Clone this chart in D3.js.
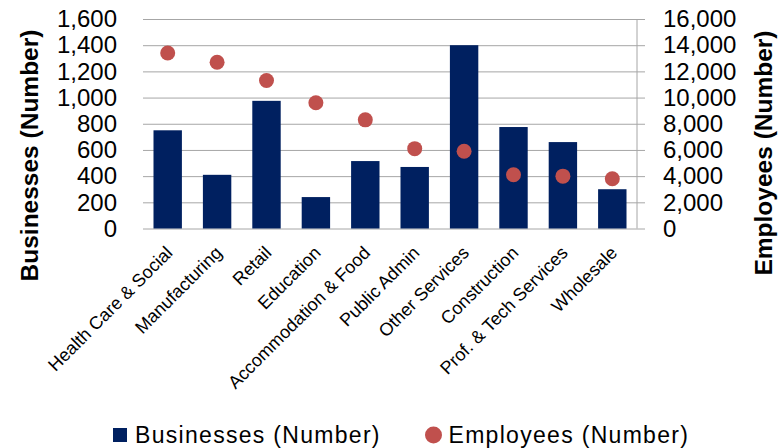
<!DOCTYPE html>
<html>
<head>
<meta charset="utf-8">
<script src="https://cdn.jsdelivr.net/npm/d3@7"></script>
<style>
  body { margin: 0; background: #fff; }
  svg { font-family: "Liberation Sans", Arial, sans-serif; }
</style>
</head>
<body>
<div id="chart"></div>
<script>
// data
var categories = ['Health Care & Social', 'Manufacturing', 'Retail', 'Education', 'Accommodation & Food',
                  'Public Admin', 'Other Services', 'Construction', 'Prof. & Tech Services', 'Wholesale'];
var businesses = [750, 410, 975, 240, 515, 470, 1400, 775, 660, 300];
var employees  = [13400, 12700, 11300, 9600, 8300, 6100, 5900, 4100, 4000, 3800];
var leftTicks  = [0, 200, 400, 600, 800, 1000, 1200, 1400, 1600];
var rightTicks = [0, 2000, 4000, 6000, 8000, 10000, 12000, 14000, 16000];

var W = 784, H = 448;
var svg = d3.select('#chart').append('svg').attr('width', W).attr('height', H);

// plot box (note: "top" is taken by window.top)
var pLeft = 143, pRight = 637, pTop = 19, pBottom = 228.5;

var x = d3.scaleBand().domain(categories).range([pLeft, pRight])
          .paddingInner(0.425).paddingOuter(0.2125);
var yL = d3.scaleLinear().domain([0, 1600]).range([pBottom, pTop]);
var yR = d3.scaleLinear().domain([0, 16000]).range([pBottom, pTop]);

var fmt = d3.format(',');

//------------------ gridlines + right axis ticks ------------------
var grid = svg.append('g').attr('transform', `translate(${pLeft},0)`)
    .call(d3.axisRight(yL).tickValues(leftTicks).tickSize(pRight - pLeft + 8).tickFormat(''));
grid.select('.domain').remove();
grid.selectAll('line').attr('stroke', '#a6a6a6').attr('stroke-width', 1);

// right vertical axis line
svg.append('line').attr('x1', pRight).attr('x2', pRight).attr('y1', pTop).attr('y2', pBottom)
   .attr('stroke', '#a6a6a6').attr('stroke-width', 1);

//------------------ left tick labels ------------------
var axL = svg.append('g').attr('transform', `translate(${pLeft - 26},0)`)
    .call(d3.axisLeft(yL).tickValues(leftTicks).tickSize(0).tickPadding(0).tickFormat(fmt));
axL.select('.domain').remove();
axL.selectAll('text').attr('font-size', 24).attr('fill', '#000')
   .attr('font-family', '"Liberation Sans", Arial, sans-serif');

//------------------ right tick labels ------------------
var axR = svg.append('g').attr('transform', `translate(${pRight + 26},0)`)
    .call(d3.axisRight(yR).tickValues(rightTicks).tickSize(0).tickPadding(0).tickFormat(fmt));
axR.select('.domain').remove();
axR.selectAll('text').attr('font-size', 24).attr('fill', '#000')
   .attr('font-family', '"Liberation Sans", Arial, sans-serif');

//------------------ bars ------------------
svg.selectAll('.bar').data(businesses).enter()
   .append('rect').attr('class', 'bar')
   .attr('x', (d, i) => x(categories[i]))
   .attr('width', x.bandwidth())
   .attr('y', d => yL(d))
   .attr('height', d => pBottom - yL(d))
   .attr('fill', '#002060');

//------------------ employee dots ------------------
svg.selectAll('.dot').data(employees).enter()
   .append('circle').attr('class', 'dot')
   .attr('cx', (d, i) => x(categories[i]) + x.bandwidth() / 2)
   .attr('cy', d => yR(d))
   .attr('r', 7.5)
   .attr('fill', '#c0504d');

//------------------ category labels ------------------
svg.selectAll('.cat').data(categories).enter()
   .append('text').attr('class', 'cat')
   .attr('transform', d => `translate(${x(d) + x.bandwidth() / 2 + 6},254) rotate(-45)`)
   .attr('text-anchor', 'end')
   .attr('font-size', 18)
   .text(d => d);

//------------------ axis titles ------------------
svg.append('text').attr('transform', 'translate(37.5,155.5) rotate(-90)')
   .attr('text-anchor', 'middle').attr('font-weight', 'bold').attr('font-size', 24.5)
   .text('Businesses (Number)');
svg.append('text').attr('transform', 'translate(772,153) rotate(-90)')
   .attr('text-anchor', 'middle').attr('font-weight', 'bold').attr('font-size', 24.5)
   .text('Employees (Number)');

//------------------ legend ------------------
var lg = svg.append('g');
lg.append('rect').attr('x', 113).attr('y', 428).attr('width', 14).attr('height', 14).attr('fill', '#002060');
lg.append('text').attr('x', 135).attr('y', 443).attr('font-size', 23).attr('letter-spacing', 1.3)
  .text('Businesses (Number)');
lg.append('circle').attr('cx', 433.5).attr('cy', 435).attr('r', 8.5).attr('fill', '#c0504d');
lg.append('text').attr('x', 448.5).attr('y', 443).attr('font-size', 23).attr('letter-spacing', 1.3)
  .text('Employees (Number)');
</script>
</body>
</html>
